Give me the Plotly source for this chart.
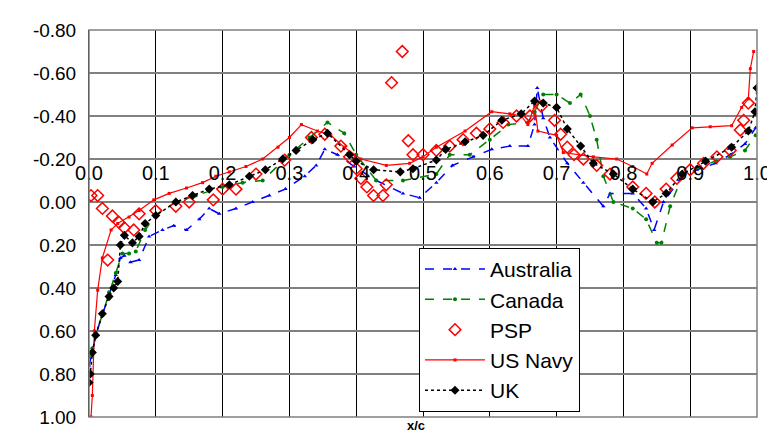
import plotly.graph_objects as go

# x/c and Cp for each series
aus_x = [0.0, 0.005, 0.01, 0.02, 0.03, 0.04, 0.047, 0.053, 0.062, 0.075, 0.09, 0.11, 0.127, 0.146, 0.165, 0.18, 0.195, 0.22, 0.245, 0.27, 0.294, 0.323, 0.34, 0.353, 0.372, 0.397, 0.43, 0.47, 0.495, 0.52, 0.544, 0.575, 0.603, 0.63, 0.657, 0.667, 0.671, 0.68, 0.69, 0.716, 0.74, 0.77, 0.78, 0.814, 0.834, 0.846, 0.86, 0.888, 0.91, 0.938, 0.96, 0.982, 0.998]
aus_y = [0.76, 0.70, 0.62, 0.52, 0.43, 0.34, 0.26, 0.25, 0.28, 0.27, 0.16, 0.13, 0.11, 0.13, 0.08, 0.03, 0.055, 0.03, 0.0, -0.03, -0.06, -0.12, -0.17, -0.245, -0.22, -0.165, -0.10, -0.04, -0.02, -0.09, -0.17, -0.21, -0.245, -0.26, -0.26, -0.36, -0.53, -0.39, -0.30, -0.18, -0.09, 0.02, -0.04, -0.04, 0.03, 0.13, 0.0, -0.12, -0.15, -0.18, -0.22, -0.27, -0.345]

can_x = [0.0, 0.005, 0.01, 0.02, 0.03, 0.04, 0.05, 0.06, 0.07, 0.084, 0.1, 0.13, 0.16, 0.2, 0.23, 0.26, 0.3, 0.33, 0.357, 0.382, 0.40, 0.43, 0.47, 0.52, 0.54, 0.57, 0.6, 0.628, 0.657, 0.667, 0.68, 0.70, 0.72, 0.736, 0.75, 0.76, 0.77, 0.785, 0.814, 0.834, 0.85, 0.857, 0.87, 0.888, 0.91, 0.938, 0.96, 0.982, 0.998]
can_y = [0.72, 0.68, 0.62, 0.52, 0.42, 0.33, 0.24, 0.24, 0.23, 0.13, 0.06, 0.0, -0.03, -0.07, -0.09, -0.10, -0.22, -0.30, -0.37, -0.32, -0.22, -0.10, -0.10, -0.13, -0.22, -0.22, -0.29, -0.36, -0.37, -0.42, -0.50, -0.50, -0.46, -0.50, -0.40, -0.29, -0.12, 0.0, 0.03, 0.08, 0.19, 0.19, 0.02, -0.12, -0.16, -0.19, -0.21, -0.24, -0.31]

psp_x = [0.003, 0.013, 0.02, 0.028, 0.035, 0.045, 0.053, 0.067, 0.075, 0.1, 0.13, 0.15, 0.186, 0.2, 0.22, 0.25, 0.293, 0.333, 0.353, 0.377, 0.39, 0.40, 0.407, 0.416, 0.426, 0.44, 0.445, 0.453, 0.469, 0.478, 0.485, 0.50, 0.52, 0.54, 0.56, 0.58, 0.60, 0.62, 0.64, 0.66, 0.677, 0.697, 0.706, 0.716, 0.726, 0.74, 0.76, 0.78, 0.814, 0.834, 0.847, 0.864, 0.88, 0.90, 0.92, 0.94, 0.96, 0.975, 0.98, 0.987]
psp_y = [-0.03, -0.03, 0.03, 0.27, 0.065, 0.095, 0.12, 0.13, 0.055, 0.04, 0.02, 0.0, -0.01, -0.06, -0.06, -0.13, -0.195, -0.30, -0.315, -0.26, -0.21, -0.155, -0.11, -0.07, -0.03, -0.03, -0.08, -0.555, -0.70, -0.285, -0.22, -0.22, -0.24, -0.26, -0.29, -0.32, -0.34, -0.37, -0.40, -0.40, -0.445, -0.38, -0.315, -0.255, -0.22, -0.20, -0.17, -0.13, -0.07, -0.04, 0.0, -0.06, -0.11, -0.15, -0.18, -0.21, -0.24, -0.335, -0.38, -0.46]

usn_x = [0.003, 0.005, 0.008, 0.013, 0.02, 0.033, 0.043, 0.06, 0.075, 0.097, 0.12, 0.146, 0.17, 0.19, 0.21, 0.235, 0.26, 0.283, 0.3, 0.318, 0.342, 0.362, 0.382, 0.407, 0.445, 0.48, 0.5, 0.52, 0.563, 0.603, 0.63, 0.647, 0.657, 0.667, 0.672, 0.70, 0.71, 0.755, 0.79, 0.814, 0.835, 0.843, 0.873, 0.903, 0.93, 0.962, 0.977, 0.987, 0.99, 0.995]
usn_y = [1.0, 0.90, 0.60, 0.41, 0.26, 0.13, 0.10, 0.07, 0.04, -0.01, -0.04, -0.065, -0.09, -0.12, -0.14, -0.165, -0.20, -0.255, -0.30, -0.36, -0.33, -0.31, -0.255, -0.20, -0.17, -0.18, -0.21, -0.255, -0.33, -0.42, -0.41, -0.40, -0.36, -0.45, -0.33, -0.31, -0.23, -0.21, -0.20, -0.165, -0.13, -0.18, -0.265, -0.345, -0.35, -0.355, -0.44, -0.48, -0.62, -0.70]

uk_x = [0.0, 0.002, 0.005, 0.01, 0.02, 0.03, 0.037, 0.043, 0.047, 0.053, 0.065, 0.075, 0.084, 0.1, 0.13, 0.155, 0.18, 0.21, 0.24, 0.264, 0.29, 0.31, 0.335, 0.357, 0.39, 0.40, 0.426, 0.466, 0.485, 0.52, 0.534, 0.563, 0.59, 0.618, 0.647, 0.667, 0.68, 0.70, 0.716, 0.736, 0.755, 0.785, 0.814, 0.844, 0.864, 0.888, 0.923, 0.962, 0.987, 0.997, 1.0]
uk_y = [0.84, 0.80, 0.70, 0.62, 0.52, 0.44, 0.40, 0.37, 0.20, 0.155, 0.19, 0.16, 0.10, 0.063, 0.0, -0.03, -0.06, -0.08, -0.12, -0.15, -0.20, -0.24, -0.29, -0.32, -0.22, -0.19, -0.15, -0.14, -0.155, -0.195, -0.245, -0.28, -0.31, -0.38, -0.41, -0.47, -0.46, -0.44, -0.34, -0.26, -0.18, -0.13, -0.06, 0.0, -0.04, -0.13, -0.19, -0.255, -0.33, -0.42, -0.53]

y_ticks = [-0.8, -0.6, -0.4, -0.2, 0.0, 0.2, 0.4, 0.6, 0.8, 1.0]
y_labels = ["-0.80", "-0.60", "-0.40", "-0.20", "0.00", "0.20", "0.40", "0.60", "0.80", "1.00"]
x_ticks = [0.0, 0.1, 0.2, 0.3, 0.4, 0.5, 0.6, 0.7, 0.8, 0.9, 1.0]
x_labels = ["0.0", "0.1", "0.2", "0.3", "0.4", "0.5", "0.6", "0.7", "0.8", "0.9", "1.0"]

fig = go.Figure()
fig.add_trace(go.Scatter(x=aus_x, y=aus_y, name="Australia", mode="lines+markers",
                         line=dict(color="blue", dash="dash", width=1.5),
                         marker=dict(symbol="triangle-up", size=4, color="blue")))
fig.add_trace(go.Scatter(x=can_x, y=can_y, name="Canada", mode="lines+markers",
                         line=dict(color="green", dash="dash", width=1.5),
                         marker=dict(symbol="circle", size=4, color="green")))
fig.add_trace(go.Scatter(x=psp_x, y=psp_y, name="PSP", mode="markers",
                         marker=dict(symbol="diamond-open", size=9, color="red", line=dict(width=1.5))))
fig.add_trace(go.Scatter(x=usn_x, y=usn_y, name="US Navy", mode="lines+markers",
                         line=dict(color="red", width=1.2),
                         marker=dict(symbol="square", size=3, color="red")))
fig.add_trace(go.Scatter(x=uk_x, y=uk_y, name="UK", mode="lines+markers",
                         line=dict(color="black", dash="dot", width=1.5),
                         marker=dict(symbol="diamond", size=7, color="black")))

fig.update_layout(
    width=775, height=432,
    margin=dict(l=81, r=16, t=19, b=18),
    paper_bgcolor="white", plot_bgcolor="white",
    font=dict(family="Liberation Sans, Arial", color="black"),
    legend=dict(x=0.494, y=0.437, xanchor="left", yanchor="top",
                bgcolor="white", bordercolor="black", borderwidth=1,
                font=dict(size=21), itemwidth=60),
    xaxis=dict(range=[0, 1.0], tickvals=x_ticks, ticktext=x_labels,
               anchor="free", position=0.667, tickfont=dict(size=20),
               showgrid=True, gridcolor="black", gridwidth=1,
               showline=False, zeroline=False, ticks=""),
    yaxis=dict(range=[1.0, -0.8], tickvals=y_ticks, ticktext=y_labels,
               tickfont=dict(size=19), showgrid=True, gridcolor="#808080",
               gridwidth=1.5, zeroline=False, showline=True, linecolor="black",
               mirror=False, ticks="outside", ticklen=8, tickcolor="white"),
    shapes=[dict(type="rect", xref="paper", yref="paper", x0=0, x1=1, y0=0, y1=1,
                 line=dict(color="#808080", width=1.5))],
    annotations=[dict(text="<b>x/c</b>", xref="paper", yref="paper", x=0.49, y=0,
                      yshift=1, showarrow=False, font=dict(size=13), yanchor="top")],
)

fig.write_html("out.html")
